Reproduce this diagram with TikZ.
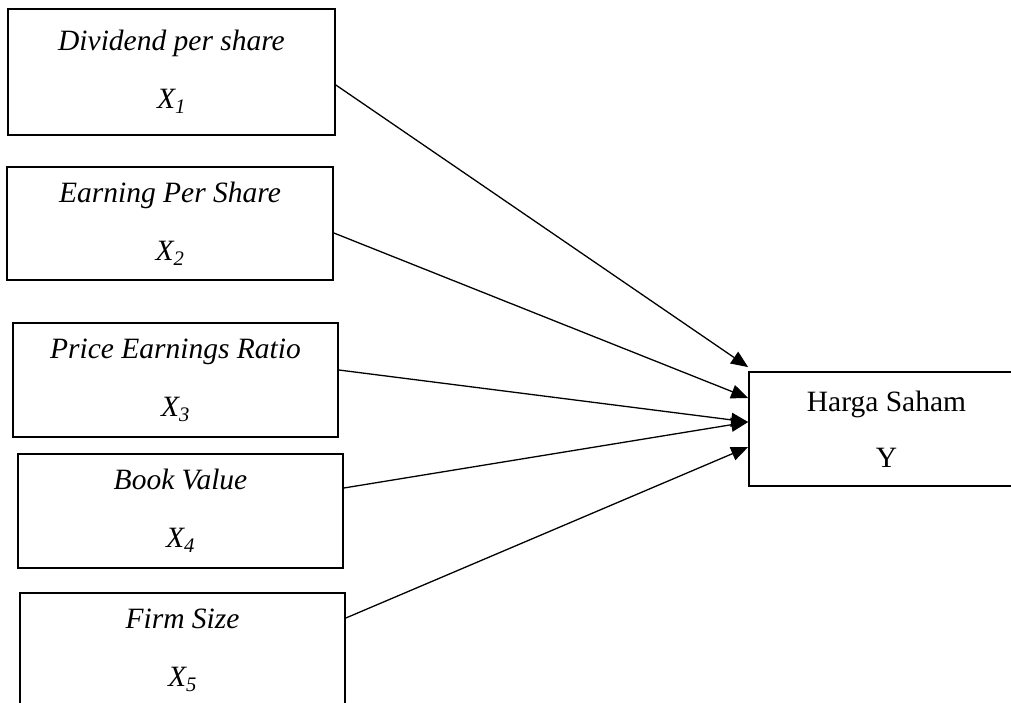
\documentclass[tikz,border=0pt]{standalone}
\usepackage{fontspec}
\setmainfont{Liberation Serif}
\usetikzlibrary{arrows.meta,positioning}
\tikzstyle{var} = [rectangle, draw, line width=1.7pt, minimum width=325pt, minimum height=114pt, inner sep=0pt, align=center, font=\fontsize{29.5}{58}\selectfont\itshape]
\tikzstyle{line} = [draw, line width=1.3pt, -{Triangle[length=17pt,width=14pt]}]

\begin{document}
\begin{tikzpicture}[x=1pt, y=-1pt]
		\useasboundingbox (0,0) rectangle (1011,703);
		% Independent variables
		\node[var, minimum width=327pt, minimum height=126pt] (dps) at (171.5,72) {Dividend per share\\X\textsubscript{1}};
		\node[var, minimum width=326pt, minimum height=113pt] (eps) at (170,223.5) {Earning Per Share\\X\textsubscript{2}};
		\node[var] (per) at (175.5,380) {Price Earnings Ratio\\X\textsubscript{3}};
		\node[var] (bv) at (180.5,511) {Book Value\\X\textsubscript{4}};
		\node[var] (fs) at (182.5,650) {Firm Size\\X\textsubscript{5}};
		
		% Dependent variable
		\node[var, minimum width=275pt, font=\fontsize{29.5}{56}\selectfont\upshape] (hs) at (886.5,429) {Harga Saham\\Y};
		
		% Paths
		\path [line] ([yshift=-13pt]dps.east) -- ([yshift=4pt]hs.north west);
		\path [line] ([yshift=-9.5pt]eps.east) -- ([yshift=31pt]hs.west);
		\path [line] ([yshift=10pt]per.east) -- ([yshift=7pt]hs.west);
		\path [line] ([yshift=23pt]bv.east) -- ([yshift=7pt]hs.west);
		\path [line] ([yshift=32pt]fs.east) -- ([yshift=-18pt]hs.west);
		
	\end{tikzpicture}
\end{document}
